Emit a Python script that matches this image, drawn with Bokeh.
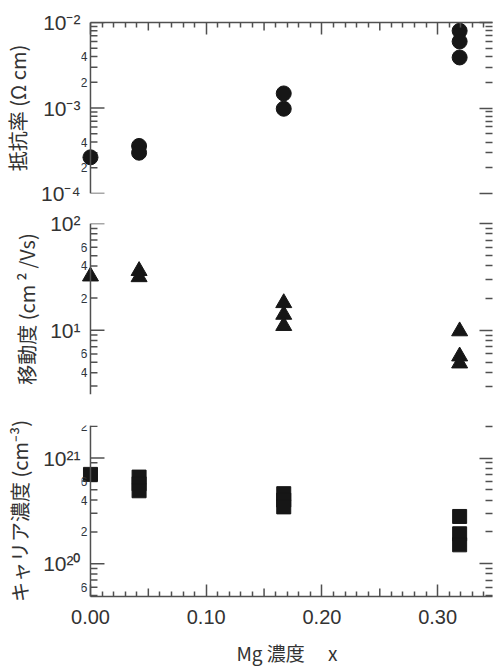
import math
from bokeh.core.properties import value
from bokeh.layouts import column
from bokeh.models import (FixedTicker, LinearAxis, LogAxis, Range1d, ColumnDataSource,
                          CustomJSTickFormatter, LabelSet, Span)
from bokeh.plotting import figure
from bokeh.embed import file_html
from bokeh.resources import INLINE

# ---------------- data ----------------
res_x = [0.0, 0.042, 0.042, 0.167, 0.167, 0.319, 0.319, 0.319]
res_y = [2.65e-4, 3.6e-4, 3.0e-4, 1.48e-3, 0.98e-3, 8.0e-3, 6.0e-3, 3.9e-3]

mob_x = [0.0, 0.042, 0.042, 0.167, 0.167, 0.167, 0.319, 0.319, 0.319]
mob_y = [32.0, 36.0, 31.5, 18.0, 14.0, 11.0, 9.8, 5.7, 4.9]

car_x = [0.0, 0.042, 0.042, 0.042, 0.167, 0.167, 0.167, 0.319, 0.319, 0.319]
car_y = [7.0e20, 6.6e20, 5.7e20, 4.9e20, 4.6e20, 4.0e20, 3.45e20, 2.8e20, 1.92e20, 1.51e20]

x_major = [0.0, 0.1, 0.2, 0.3]
x_major_labels = ["0.00", "0.10", "0.20", "0.30"]
x_medium = [0.05, 0.15, 0.25]
x_title = "Mg 濃度 \u3000x"

res_range = (1e-4, 1e-2)
res_decades = [1e-4, 1e-3, 1e-2]
res_decade_labels = ["10⁻⁴", "10⁻³", "10⁻²"]
res_minor_ticks = [2e-4, 4e-4, 2e-3, 4e-3]
res_minor_labels = ["2", "4", "2", "4"]
res_title = "抵抗率 (Ω cm)"

mob_range = (2.5, 100.0)
mob_decades = [10.0, 100.0]
mob_decade_labels = ["10¹", "10²"]
mob_minor_ticks = [4.0, 6.0, 20.0, 40.0, 60.0]
mob_minor_labels = ["4", "6", "2", "4", "6"]
mob_title = "移動度 (cm\u2009²\u2009/Vs)"

car_range = (4.9e19, 2.03e21)
car_decades = [1e20, 1e21]
car_decade_labels = ["10²⁰", "10²¹"]
car_minor_ticks = [6e19, 2e20, 4e20, 6e20, 2e21]
car_minor_labels = ["6", "2", "4", "6", "2"]
car_title = "キャリア濃度 (cm⁻³)"

# ---------------- style ----------------
X_AXIS = 0.0              # where the y axes sit
X_START, X_END = -0.00776, 0.3474
AXIS_COLOR = "#505050"
TEXT_COLOR = "#333333"
NUM_FONT = "Liberation Sans"
JP_FONT = "Noto Sans CJK JP"
W = 493

LOOKUP_JS = """
for (let i = 0; i < tv.length; i++) {
  if (Math.abs(Math.log10(tick) - Math.log10(tv[i])) < 1e-6) return tl[i];
}
return '';
"""


def lookup_formatter(values, labels):
    return CustomJSTickFormatter(args=dict(tv=list(values), tl=list(labels)), code=LOOKUP_JS)


def log_minors(lo, hi):
    out = []
    for e in range(-30, 31):
        for m in range(2, 10):
            v = m * 10.0 ** e
            if lo <= v <= hi:
                out.append(v)
    return out


def x_minors():
    return [i / 100 for i in range(1, 35) if i % 5 != 0]


def no_labels(ax):
    ax.formatter = CustomJSTickFormatter(code="return ''")
    ax.major_label_text_font_size = "1px"
    ax.major_label_standoff = 0
    ax.axis_label = None


def style_ticks(ax, major_in, minor_in, line=True):
    ax.major_tick_in = major_in
    ax.major_tick_out = 0
    ax.minor_tick_in = minor_in
    ax.minor_tick_out = 0
    ax.major_tick_line_color = AXIS_COLOR
    ax.major_tick_line_width = 1.5
    ax.minor_tick_line_color = AXIS_COLOR
    ax.minor_tick_line_width = 1.5
    if line:
        ax.axis_line_color = AXIS_COLOR
        ax.axis_line_width = 1.5
    else:
        ax.axis_line_color = None


def ticks_as_rays(p, xs, ys, length, angle):
    src = ColumnDataSource(dict(x=xs, y=ys))
    p.ray("x", "y", source=src, length=length, length_units="screen", angle=angle,
          line_color=AXIS_COLOR, line_width=1.5)


def make_panel(xs, ys, marker, size, yr, decades, dec_labels, mticks, mlabels,
               title, height, b_top, b_bottom, top_axis=False, bottom_axis=False):
    p = figure(width=W, height=height, x_range=Range1d(X_START, X_END),
               y_range=Range1d(*yr), y_axis_type="log",
               x_axis_location=None, y_axis_location=None,
               output_backend="svg", toolbar_location=None,
               min_border_left=80, min_border_right=1,
               min_border_top=b_top, min_border_bottom=b_bottom)
    p.grid.visible = False
    p.outline_line_color = None

    minors = log_minors(*yr)

    # left axis: only the 10^n labels and the title
    left = LogAxis(ticker=FixedTicker(ticks=decades, minor_ticks=[]))
    style_ticks(left, 0, 0, line=False)
    left.major_tick_line_color = None
    left.minor_tick_line_color = None
    left.formatter = lookup_formatter(decades, dec_labels)
    left.major_label_text_font = NUM_FONT
    left.major_label_text_font_size = "21px"
    left.major_label_text_color = TEXT_COLOR
    left.major_label_standoff = 1
    left.axis_label = title
    left.axis_label_text_font = JP_FONT
    left.axis_label_text_font_size = "20px"
    left.axis_label_text_font_style = "normal"
    left.axis_label_text_color = TEXT_COLOR
    left.axis_label_standoff = 6
    p.add_layout(left, "left")

    # visible y axis line at x = 0 with inward ticks
    p.add_layout(Span(location=X_AXIS, dimension="height",
                      line_color=AXIS_COLOR, line_width=1.5))
    ticks_as_rays(p, [X_AXIS] * len(decades), decades, 14, 0)
    ticks_as_rays(p, [X_AXIS] * len(minors), minors, 7, 0)

    # small labels on some minor ticks
    lab_src = ColumnDataSource(dict(x=[X_AXIS] * len(mticks), y=mticks, text=mlabels))
    p.add_layout(LabelSet(x="x", y="y", text="text", source=lab_src, x_offset=-3,
                          text_align="right", text_baseline="middle",
                          text_font=value(NUM_FONT), text_font_size="13px",
                          text_color=TEXT_COLOR))

    # right axis: ticks only
    right = LogAxis(ticker=FixedTicker(ticks=decades, minor_ticks=minors))
    style_ticks(right, 13, 7, line=False)
    no_labels(right)
    p.add_layout(right, "right")

    def x_axis(loc, labels):
        ax = LinearAxis(ticker=FixedTicker(ticks=x_major, minor_ticks=x_minors()),
                        bounds=(X_AXIS, X_END))
        style_ticks(ax, 12, 5)
        if labels:
            ax.major_label_overrides = {v: s for v, s in zip(x_major, x_major_labels)}
            ax.major_label_text_font = NUM_FONT
            ax.major_label_text_font_size = "20px"
            ax.major_label_text_color = TEXT_COLOR
            ax.major_label_standoff = 13
            ax.axis_label = x_title
            ax.axis_label_text_font = JP_FONT
            ax.axis_label_text_font_size = "19px"
            ax.axis_label_text_font_style = "normal"
            ax.axis_label_text_color = TEXT_COLOR
            ax.axis_label_standoff = 12
        else:
            no_labels(ax)
        p.add_layout(ax, loc)
        if loc == "above":
            ticks_as_rays(p, x_medium, [yr[1]] * len(x_medium), 8, -math.pi / 2)
        else:
            ticks_as_rays(p, x_medium, [yr[0]] * len(x_medium), 8, math.pi / 2)

    if top_axis:
        x_axis("above", False)
    if bottom_axis:
        x_axis("below", True)

    src = ColumnDataSource(dict(x=xs, y=ys))
    p.scatter("x", "y", source=src, marker=marker, size=size,
              fill_color="#161616", line_color="#161616")
    return p


p1 = make_panel(res_x, res_y, "circle", 15, res_range, res_decades, res_decade_labels,
                res_minor_ticks, res_minor_labels, res_title,
                height=208, b_top=22, b_bottom=15, top_axis=True)
p2 = make_panel(mob_x, mob_y, "triangle", 16, mob_range, mob_decades, mob_decade_labels,
                mob_minor_ticks, mob_minor_labels, mob_title,
                height=201, b_top=15, b_bottom=15)
p3 = make_panel(car_x, car_y, "square", 14, car_range, car_decades, car_decade_labels,
                car_minor_ticks, car_minor_labels, car_title,
                height=259, b_top=16, b_bottom=72, bottom_axis=True)

layout = column(p1, p2, p3, spacing=0)

with open("out.html", "w") as f:
    f.write(file_html(layout, INLINE))
